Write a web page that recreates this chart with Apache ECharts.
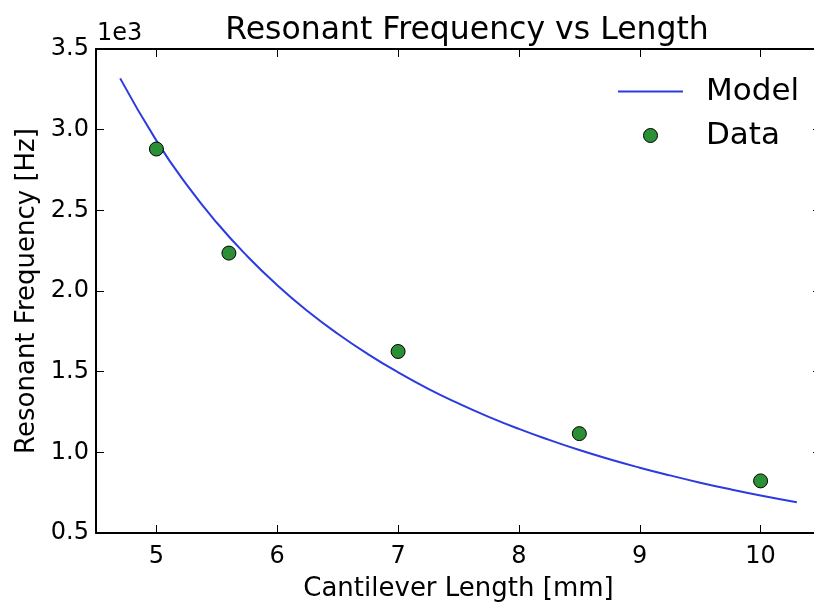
<!DOCTYPE html>
<html>
<head>
<meta charset="utf-8">
<script src="https://cdn.jsdelivr.net/npm/echarts@6/dist/echarts.min.js"></script>
<style>
  html, body { margin: 0; padding: 0; background: #fff; }
  #chart { width: 814px; height: 607px; }
</style>
</head>
<body>
<div id="chart"></div>
<script>
// model curve (Hz)
const modelLength = [4.7, 5.0, 5.25, 5.5, 5.75, 6.0, 6.25, 6.5, 6.75, 7.0, 7.25, 7.5, 7.75,
  8.0, 8.25, 8.5, 8.75, 9.0, 9.25, 9.5, 9.75, 10.0, 10.3];
const modelFreq = [3318, 2932, 2659, 2423, 2217, 2036, 1876, 1735, 1609, 1496, 1394, 1303, 1220,
  1145, 1077, 1014, 957, 905, 857, 812, 771, 733, 691];

// measured points
const dataLength = [5.0, 5.6, 7.0, 8.5, 10.0];
const dataFreq = [2880, 2235, 1625, 1116, 823];

const xTicks = [5, 6, 7, 8, 9, 10];

const FONT = 'DejaVu Sans';

const chart = echarts.init(document.getElementById('chart'));

const zip = (xs, ys) => xs.map((x, i) => [x, ys[i]]);

const axisBase = {
  axisLine: { show: true, onZero: false, lineStyle: { color: '#000', width: 2 } },
  axisTick: { show: true, inside: true, length: 8, lineStyle: { color: '#000', width: 1 } },
  splitLine: { show: false }
};

const option = {
  animation: false,
  backgroundColor: '#fff',
  title: {
    text: 'Resonant Frequency vs Length',
    left: 462,
    top: 10,
    textAlign: 'center',
    textStyle: { fontFamily: FONT, fontSize: 31.5, fontWeight: 'normal', color: '#000' }
  },
  grid: { left: 96, top: 49, bottom: 74, right: -7, outerBoundsMode: 'none', containLabel: false },
  legend: {
    orient: 'vertical',
    left: 617,
    top: 76,
    padding: 0,
    itemWidth: 65,
    itemHeight: 14,
    itemGap: 13,
    textStyle: { fontFamily: FONT, fontSize: 31, color: '#000', padding: [0, 0, 0, 18] },
    data: [
      { name: 'Model', itemStyle: { opacity: 0 } },
      { name: 'Data', itemStyle: { borderWidth: 1 } }
    ]
  },
  xAxis: [
    Object.assign({}, axisBase, {
      type: 'value',
      min: 4.5,
      max: 10.5,
      position: 'bottom',
      name: 'Cantilever Length [mm]',
      nameLocation: 'middle',
      nameGap: 43,
      nameTextStyle: { fontFamily: FONT, fontSize: 26, color: '#000' },
      axisTick: Object.assign({}, axisBase.axisTick, { customValues: xTicks }),
      axisLabel: {
        customValues: xTicks,
        margin: 12,
        fontFamily: FONT, fontSize: 24, color: '#000'
      }
    }),
    Object.assign({}, axisBase, {
      type: 'value',
      min: 4.5,
      max: 10.5,
      position: 'top',
      axisTick: Object.assign({}, axisBase.axisTick, { customValues: xTicks }),
      axisLabel: { show: false }
    })
  ],
  yAxis: [
    Object.assign({}, axisBase, {
      type: 'value',
      min: 500,
      max: 3500,
      interval: 500,
      position: 'left',
      name: 'Resonant Frequency [Hz]',
      nameLocation: 'middle',
      nameGap: 54,
      nameTextStyle: { fontFamily: FONT, fontSize: 26, color: '#000' },
      axisLabel: {
        margin: 7,
        fontFamily: FONT, fontSize: 24, color: '#000',
        formatter: v => (v / 1000).toFixed(1)
      }
    }),
    Object.assign({}, axisBase, {
      type: 'value',
      min: 500,
      max: 3500,
      interval: 500,
      position: 'right',
      axisLabel: { show: false }
    })
  ],
  graphic: [{
    type: 'text',
    left: 97,
    top: 22,
    style: { text: '1e3', font: '24px "DejaVu Sans"', fill: '#000' }
  }],
  series: [
    {
      name: 'Model',
      type: 'line',
      data: zip(modelLength, modelFreq),
      smooth: true,
      symbol: 'none',
      lineStyle: { color: '#2b3be0', width: 2 },
      itemStyle: { color: '#2b3be0' },
      z: 2
    },
    {
      name: 'Data',
      type: 'scatter',
      data: zip(dataLength, dataFreq),
      symbol: 'circle',
      symbolSize: 14,
      itemStyle: { color: '#2a8f35', borderColor: '#000', borderWidth: 1, opacity: 1 },
      z: 3
    }
  ]
};

chart.setOption(option);
</script>
</body>
</html>
